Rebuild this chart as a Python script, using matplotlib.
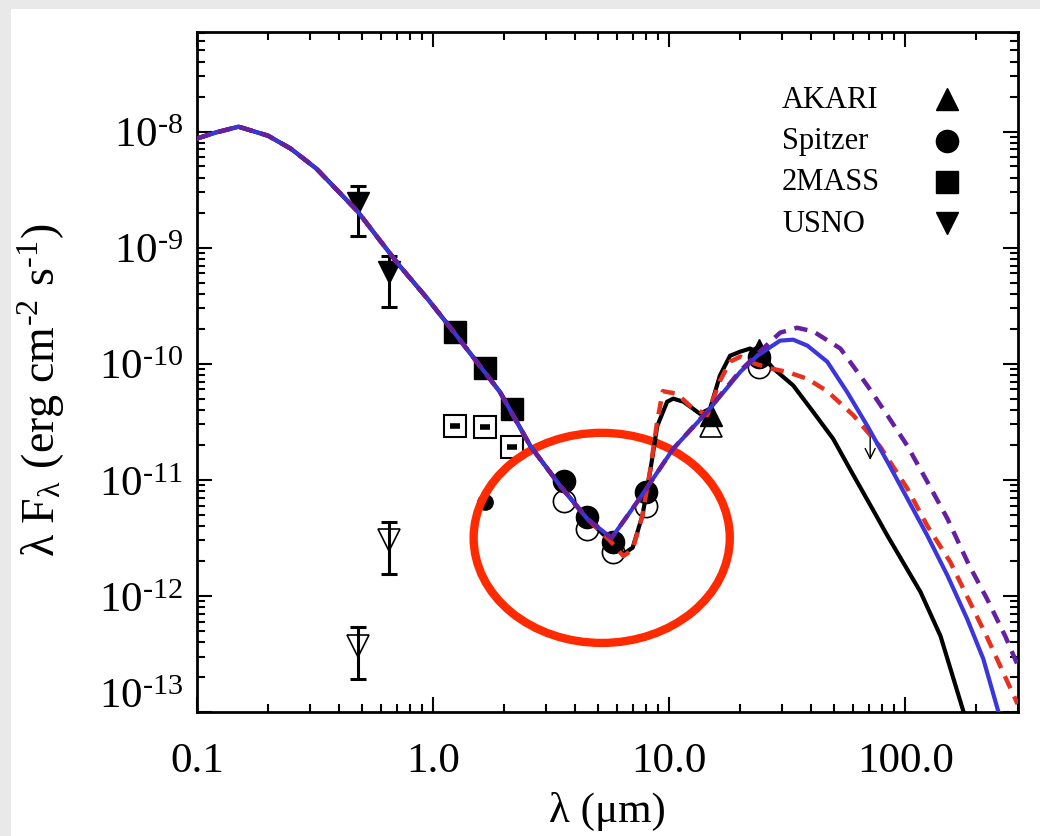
import matplotlib
matplotlib.use('Agg')
import matplotlib.pyplot as plt
import numpy as np
from matplotlib.patches import Ellipse, Rectangle
from matplotlib.ticker import FixedLocator, FixedFormatter, LogLocator, NullFormatter

plt.rcParams['font.family'] = ['Liberation Serif', 'DejaVu Serif']
plt.rcParams['mathtext.fontset'] = 'stix'

# stellar photosphere, shared by all models (micron, erg/cm2/s)
wl_star = [0.1, 0.12, 0.15, 0.2, 0.25, 0.32, 0.4, 0.48, 0.6, 0.72, 0.95, 1.22, 1.92, 2.58, 3.45, 4.5]
f_star = [8.7e-9, 9.8e-9, 1.1e-8, 9.2e-9, 7.1e-9, 4.8e-9, 3.0e-9, 2.04e-9, 1.13e-9, 7.0e-10,
          3.6e-10, 1.89e-10, 5.7e-11, 1.96e-11, 8.9e-12, 4.6e-12]

# disk models (infrared part)
wl_black = [5.6, 6.4, 7.0, 7.7, 8.3, 8.9, 9.8, 10.4, 11.5, 13.5, 14.9, 16.4, 18.1, 20.0, 22.0,
            24.3, 27.6, 33.5, 40.7, 49.5, 60.2, 73.0, 84.0, 116.0, 141.0, 176.0]
f_black = [3.0e-12, 2.3e-12, 2.6e-12, 4.9e-12, 1.17e-11, 2.9e-11, 4.7e-11, 5.0e-11, 4.7e-11, 3.7e-11,
           4.1e-11, 7.9e-11, 1.17e-10, 1.27e-10, 1.35e-10, 1.22e-10, 9.1e-11, 6.5e-11, 3.85e-11,
           2.25e-11, 1.1e-11, 5.5e-12, 3.3e-12, 1.08e-12, 4.5e-13, 1.02e-13]

wl_red = [5.6, 6.4, 7.0, 7.7, 8.3, 8.9, 9.4, 10.8, 12.3, 14.5, 16.4, 18.1, 20.0, 23.1, 26.8, 31.6,
          38.5, 46.7, 60.2, 78.4, 102.0, 124.0, 155.0, 222.0, 299.0]
f_red = [3.0e-12, 2.2e-12, 2.5e-12, 4.9e-12, 1.2e-11, 3.2e-11, 5.8e-11, 5.5e-11, 4.3e-11, 3.6e-11,
         7.1e-11, 1.04e-10, 1.15e-10, 1.0e-10, 9.1e-11, 8.5e-11, 7.4e-11, 5.8e-11, 3.6e-11,
         1.92e-11, 8.4e-12, 4.0e-12, 1.96e-12, 4.4e-13, 1.17e-13]

wl_blue = [5.7, 7.5, 10.4, 14.5, 20.0, 23.6, 29.5, 33.5, 38.5, 46.7, 56.7, 69.0, 84.0, 102.0,
           124.0, 151.0, 183.0, 214.0, 248.0]
f_blue = [3.15e-12, 6.9e-12, 1.85e-11, 3.85e-11, 8.5e-11, 1.17e-10, 1.58e-10, 1.61e-10, 1.43e-10,
          1.04e-10, 5.7e-11, 2.92e-11, 1.43e-11, 6.9e-12, 3.3e-12, 1.49e-12, 6.3e-13, 2.86e-13, 1.0e-13]

wl_purple = [5.7, 7.5, 10.4, 14.5, 20.0, 24.0, 29.5, 34.8, 40.7, 53.1, 69.0, 84.7, 102.0, 124.0,
             151.0, 185.0, 222.0, 265.0, 300.0]
f_purple = [3.15e-12, 6.9e-12, 1.85e-11, 3.9e-11, 8.7e-11, 1.25e-10, 1.85e-10, 2.04e-10, 1.9e-10,
            1.35e-10, 6.5e-11, 3.5e-11, 1.96e-11, 9.6e-12, 4.6e-12, 1.89e-12, 9.4e-13, 4.5e-13, 2.5e-13]

# photometry
usno_wl = [0.48, 0.65]
usno_f = [2.4e-9, 6.2e-10]
usno_lo = [1.25e-9, 3.1e-10]
usno_hi = [3.4e-9, 8.4e-10]
usno_open_f = [3.7e-13, 3.0e-12]
usno_open_lo = [1.92e-13, 1.55e-12]
usno_open_hi = [5.4e-13, 4.35e-12]

tmass_wl = [1.235, 1.662, 2.159]
tmass_f = [1.89e-10, 9.1e-11, 4.1e-11]
tmass_open_f = [2.92e-11, 2.85e-11, 1.92e-11]

spitzer_wl = [3.6, 4.5, 5.8, 8.0, 24.0]
spitzer_f = [9.8e-12, 4.8e-12, 2.9e-12, 7.9e-12, 1.15e-10]
spitzer_open_f = [6.6e-12, 3.8e-12, 2.4e-12, 6.0e-12, 9.4e-11]

akari_wl = [15.0, 24.0]
akari_f = [3.6e-11, 1.3e-10]
akari_open_wl = [15.0]
akari_open_f = [2.9e-11]

extra_wl = [1.66]
extra_f = [6.4e-12]

lim_wl = 71.0
lim_top = 2.6e-11
lim_tip = 1.4e-11

legend_labels = ['AKARI', 'Spitzer', '2MASS', 'USNO']
legend_markers = ['^', 'o', 's', 'v']

HY = '\u2010'  # short hyphen like the original idl labels

fig = plt.figure(figsize=(10.4, 8.37), dpi=100, facecolor='#e9e9e9')
fig.patches.append(Rectangle((11 / 1040, 0), 1, 1 - 10 / 837, transform=fig.transFigure,
                             facecolor='white', edgecolor='none', zorder=-10))
ax = fig.add_axes([0.1894, 0.1482, 0.7894, 0.8124])
ax.set_xscale('log')
ax.set_yscale('log')
ax.set_xlim(0.1, 300)
ax.set_ylim(1e-13, 7.2e-8)

ms = 16
# open (second epoch) points first, white filled
ax.plot(spitzer_wl, spitzer_open_f, 'o', ms=ms, mfc='white', mec='black', mew=1.2, zorder=2)
ax.plot(akari_open_wl, akari_open_f, '^', ms=ms, mfc='white', mec='black', mew=1.2, zorder=2)
ax.plot(tmass_wl, tmass_open_f, 's', ms=ms, mfc='white', mec='black', mew=1.5, zorder=2)
ax.plot(tmass_wl, tmass_open_f, '_', ms=7, mec='black', mew=4, zorder=2.1)

ax.plot(spitzer_wl, spitzer_f, 'o', ms=ms, color='black', zorder=3)
ax.plot(akari_wl, akari_f, '^', ms=ms, color='black', zorder=3)
ax.plot(tmass_wl, tmass_f, 's', ms=ms, color='black', zorder=3)
ax.plot(extra_wl, extra_f, 'o', ms=11, color='black', zorder=3)

usno_f = np.array(usno_f)
ax.errorbar(usno_wl, usno_f, yerr=[usno_f - np.array(usno_lo), np.array(usno_hi) - usno_f],
            fmt='v', ms=ms, color='black', elinewidth=2.2, capsize=6, capthick=2.2, zorder=3)
usno_open_f = np.array(usno_open_f)
ax.plot(usno_wl, usno_open_f, 'v', ms=ms, mfc='none', mec='black', mew=1.2, zorder=3)
ax.errorbar(usno_wl, usno_open_f,
            yerr=[usno_open_f - np.array(usno_open_lo), np.array(usno_open_hi) - usno_open_f],
            fmt='none', ecolor='black', elinewidth=2.2, capsize=6, capthick=2.2, zorder=3)

ax.annotate('', xy=(lim_wl, lim_tip), xytext=(lim_wl, lim_top),
            arrowprops=dict(arrowstyle='->', lw=1.0, color='black', mutation_scale=18), zorder=3)

# models
ax.plot(wl_star + wl_black, f_star + f_black, color='black', lw=3.0, zorder=4)
ax.plot(wl_star + wl_red, f_star + f_red, color='#e8301e', lw=3.2, dashes=(3, 2), zorder=5)
ax.plot(wl_star + wl_blue, f_star + f_blue, color='#3a36dc', lw=3.0, zorder=6)
ax.plot(wl_star + wl_purple, f_star + f_purple, color='#6420a0', lw=3.2, dashes=(3, 2), zorder=7)

ax.add_patch(Ellipse((0.493, 0.256), 0.312, 0.309, transform=ax.transAxes, fill=False,
                     edgecolor='#ff2a00', lw=6, zorder=3.5))

# legend, text left / symbol right
for i, (lab, mk) in enumerate(zip(legend_labels, legend_markers)):
    yy = 0.901 - i * 0.0607
    ax.text(0.7126, yy, lab, transform=ax.transAxes, fontsize=22, ha='left', va='center')
    ax.plot([0.9135], [yy], mk, ms=ms, color='black', transform=ax.transAxes, clip_on=False)

# axes styling
ax.xaxis.set_major_locator(FixedLocator([0.1, 1, 10, 100]))
ax.xaxis.set_major_formatter(FixedFormatter(['0.1', '1.0', '10.0', '100.0']))
ax.xaxis.set_minor_locator(LogLocator(base=10, subs=np.arange(2, 10)))
ax.xaxis.set_minor_formatter(NullFormatter())
ytick_vals = [1e-13, 1e-12, 1e-11, 1e-10, 1e-9, 1e-8]
ytick_text = [''] + [r'$\mathregular{10^{%s%d}}$' % (HY, n) for n in [12, 11, 10, 9, 8]]
ax.yaxis.set_major_locator(FixedLocator(ytick_vals))
ax.yaxis.set_major_formatter(FixedFormatter(ytick_text))
ax.yaxis.set_minor_locator(LogLocator(base=10, subs=np.arange(2, 10), numticks=20))
ax.yaxis.set_minor_formatter(NullFormatter())
# the bottom label sits a little above its tick in the original
ax.annotate(r'$\mathregular{10^{%s13}}$' % HY, xy=(0, 1e-13), xycoords=('axes fraction', 'data'),
            xytext=(-10, 11), textcoords='offset points', ha='right', va='center', fontsize=31)

ax.tick_params(which='both', direction='in', top=True, right=True, width=1.5, color='black')
ax.tick_params(which='major', length=11)
ax.tick_params(which='minor', length=5.5)
ax.tick_params(axis='x', labelsize=31, pad=21.5)
ax.tick_params(axis='y', labelsize=31, pad=10)
for sp in ax.spines.values():
    sp.set_linewidth(2.0)

ax.set_xlabel('\u03bb (\u03bcm)', fontsize=31, labelpad=8)
ax.set_ylabel(r'λ F$_\mathregular{λ}$ (erg cm$^\mathregular{%s2}$ s$^\mathregular{%s1}$)' % (HY, HY),
              fontsize=33)
ax.yaxis.set_label_coords(-0.158, 0.475)

fig.savefig('out.png', dpi=100, facecolor=fig.get_facecolor())
